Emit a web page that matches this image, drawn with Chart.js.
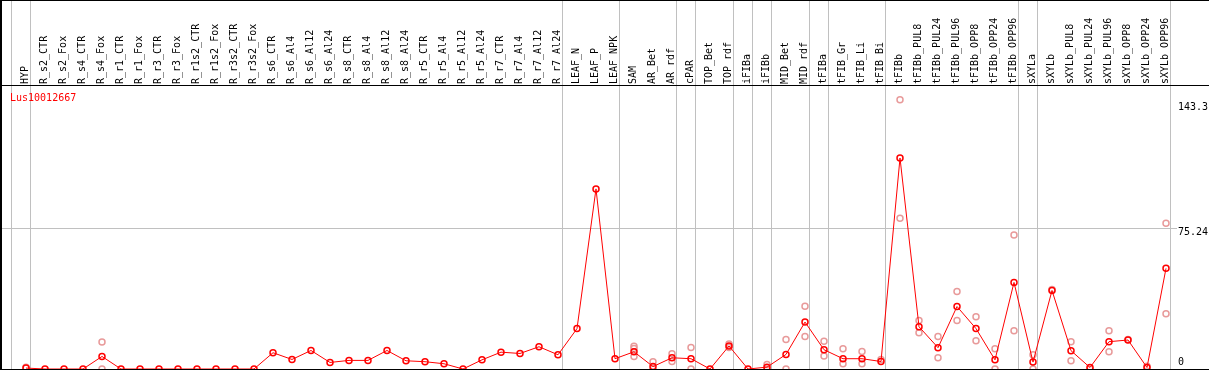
<!DOCTYPE html>
<html>
<head>
<meta charset="utf-8">
<script src="https://cdn.jsdelivr.net/npm/chart.js@4"></script>
<style>
  html, body { margin: 0; padding: 0; background: #fff; }
  canvas { display: block; }
</style>
</head>
<body>
<canvas id="exprChart" width="1209" height="370"></canvas>
<script>
// Sample names (x categories)
const sampleNames = [
    'HYP',
    'R_s2_CTR', 'R_s2_Fox', 'R_s4_CTR', 'R_s4_Fox', 'R_r1_CTR', 'R_r1_Fox', 'R_r3_CTR', 'R_r3_Fox',
    'R_r1s2_CTR', 'R_r1s2_Fox', 'R_r3s2_CTR', 'R_r3s2_Fox',
    'R_s6_CTR', 'R_s6_Al4', 'R_s6_Al12', 'R_s6_Al24', 'R_s8_CTR', 'R_s8_Al4', 'R_s8_Al12', 'R_s8_Al24',
    'R_r5_CTR', 'R_r5_Al4', 'R_r5_Al12', 'R_r5_Al24', 'R_r7_CTR', 'R_r7_Al4', 'R_r7_Al12', 'R_r7_Al24',
    'LEAF_N', 'LEAF_P', 'LEAF_NPK',
    'SAM', 'AR_Bet', 'AR_rdf', 'cPAR', 'TOP_Bet', 'TOP_rdf', 'iFIBa', 'iFIBb', 'MID_Bet', 'MID_rdf',
    'tFIBa', 'tFIB_Gr', 'tFIB_Li', 'tFIB_Bi',
    'tFIBb', 'tFIBb_PUL8', 'tFIBb_PUL24', 'tFIBb_PUL96', 'tFIBb_OPP8', 'tFIBb_OPP24', 'tFIBb_OPP96',
    'sXYLa', 'sXYLb', 'sXYLb_PUL8', 'sXYLb_PUL24', 'sXYLb_PUL96', 'sXYLb_OPP8', 'sXYLb_OPP24', 'sXYLb_OPP96'
];

// Mean expression per sample
const meanValues = [
    0.5,
    0, 0, 0, 6.7, 0, 0, 0, 0,
    0, 0, 0, 0,
    8.7, 5.1, 9.9, 3.5, 4.6, 4.6, 9.9, 4.4,
    3.9, 2.8, 0, 4.9, 9.0, 8.3, 11.9, 7.6,
    21.6, 96.3, 5.5,
    9.2, 1.3, 6.0, 5.5, 0, 12.3, 0, 1.0, 7.8, 25.1,
    10.3, 5.5, 5.5, 4.0,
    112.8, 22.6, 11.4, 33.4, 21.6, 4.9, 46.3,
    3.7, 42.0, 9.8, 0.8, 14.6, 15.5, 0.8, 53.8
];

// Individual replicates: [sample index, value]
const replicateValues = [
    [0, 1.0], [4, 14.4], [4, 0],
    [32, 12.1], [32, 11.0], [32, 6.7], [33, 3.9], [33, 0], [34, 8.2], [34, 4.0],
    [35, 11.5], [35, 0], [37, 13.3], [37, 11.5], [39, 2.4], [39, 0],
    [40, 15.8], [40, 0], [41, 33.5], [41, 17.4],
    [42, 14.8], [42, 6.9], [43, 10.8], [43, 2.8], [44, 9.4], [44, 2.8], [45, 5.1],
    [46, 144.0], [46, 80.6], [47, 25.9], [47, 19.4], [48, 17.4], [48, 6.0],
    [49, 41.4], [49, 25.9], [50, 28.0], [50, 15.1], [51, 10.8], [51, 0], [52, 71.6], [52, 20.5],
    [53, 7.6], [53, 0], [54, 42.5], [55, 14.6], [55, 4.4], [56, 0],
    [57, 20.5], [57, 9.2], [58, 15.8], [59, 1.5], [60, 77.9], [60, 29.6]
];

// First sample of each tissue group (last entry closes the final group)
const groupStarts = [0, 1, 29, 32, 35, 36, 38, 39, 40, 42, 43, 46, 53, 54, 61];

const yTicks = [0, 75.24, 143.3];
const geneId = 'Lus10012667';

const MONO = "'DejaVu Sans Mono', monospace";
const STEP = 19;               // px between samples
const X_MIN = -24 / STEP;      // first sample sits 24px into the plot
const X_MAX = X_MIN + 1168 / STEP;

const framePlugin = {
    id: 'frame',
    beforeDatasetsDraw(chart) {
        const { ctx, scales: { x } } = chart;
        ctx.save();
        ctx.fillStyle = '#c0c0c0';
        groupStarts.forEach(i => {
            const px = Math.floor(x.getPixelForValue(i - 14.5 / STEP));
            ctx.fillRect(px, 0, 1, chart.height);
        });
        ctx.restore();
    },
    afterDraw(chart) {
        const { ctx, width, height, chartArea } = chart;
        ctx.save();
        ctx.fillStyle = '#000';
        ctx.fillRect(0, 0, width, 1);
        ctx.fillRect(0, chartArea.top - 1, width, 1);
        ctx.fillRect(0, height - 1, width, 1);
        ctx.fillRect(0, 0, 2, height);

        ctx.fillStyle = '#ff0000';
        ctx.font = '10px ' + MONO;
        ctx.textBaseline = 'alphabetic';
        ctx.fillText(geneId, 10, 101);
        ctx.restore();
    }
};

const tickLineHeight = { 0: 1.4, 75.24: 0.74, 143.3: 1.3 };

new Chart(document.getElementById('exprChart'), {
    type: 'line',
    data: {
        datasets: [
            {
                label: geneId,
                data: meanValues.map((v, i) => ({ x: i, y: v })),
                borderColor: '#ff0000',
                borderWidth: 1,
                pointRadius: 3,
                pointBorderWidth: 1.5,
                pointBorderColor: '#ff0000',
                pointBackgroundColor: 'rgba(0,0,0,0)',
                tension: 0,
                clip: false,
                order: 0
            },
            {
                label: 'replicates',
                data: replicateValues.map(([i, v]) => ({ x: i, y: v })),
                showLine: false,
                pointRadius: 3,
                pointBorderWidth: 1.5,
                pointBorderColor: '#e89a9a',
                pointBackgroundColor: 'rgba(0,0,0,0)',
                clip: false,
                order: 1
            }
        ]
    },
    options: {
        responsive: false,
        animation: false,
        layout: { autoPadding: false, padding: { top: 1, left: 2, right: 0, bottom: 1 } },
        plugins: {
            legend: { display: false },
            tooltip: { enabled: false }
        },
        scales: {
            x: {
                type: 'linear',
                position: 'top',
                min: X_MIN,
                max: X_MAX,
                bounds: 'data',
                afterBuildTicks: s => { s.ticks = sampleNames.map((_, i) => ({ value: i })); },
                afterFit: s => { s.height = 85; s.paddingLeft = 0; s.paddingRight = 0; },
                grid: { display: false, drawTicks: false, tickLength: 0 },
                border: { display: false },
                ticks: {
                    autoSkip: false,
                    minRotation: 90,
                    maxRotation: 90,
                    padding: 2,
                    labelOffset: 11,
                    color: '#000',
                    font: { family: MONO, size: 10 },
                    callback: v => sampleNames[v]
                }
            },
            y: {
                type: 'linear',
                position: 'right',
                min: 0,
                max: 151.3,
                afterBuildTicks: s => { s.ticks = yTicks.map(v => ({ value: v })); },
                afterFit: s => { s.width = 39; s.paddingTop = 0; s.paddingBottom = 0; },
                border: { display: false },
                grid: {
                    tickLength: 7,
                    color: c => (c.tick && c.tick.value === 75.24 ? '#c0c0c0' : 'rgba(0,0,0,0)')
                },
                ticks: {
                    padding: 1,
                    color: '#000',
                    font: c => ({
                        family: MONO,
                        size: 10,
                        lineHeight: (c.tick && tickLineHeight[c.tick.value]) || 1.2
                    }),
                    callback: v => (v === 0 ? ['0', ''] : ['', String(v)])
                }
            }
        }
    },
    plugins: [framePlugin]
});
</script>
</body>
</html>
